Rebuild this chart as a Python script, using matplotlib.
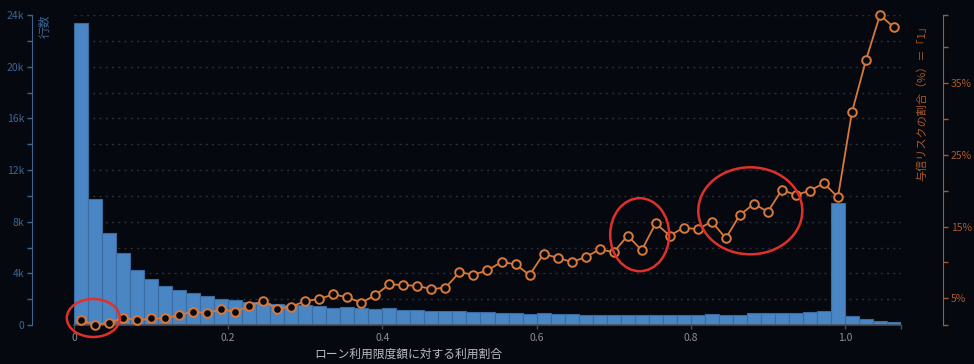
import numpy as np
import matplotlib
matplotlib.use("Agg")
import matplotlib.pyplot as plt
from matplotlib.patches import Ellipse
from matplotlib.ticker import FixedLocator, FuncFormatter

plt.rcParams['font.family'] = ['Noto Sans CJK JP', 'DejaVu Sans']

# ---- data ----
counts = [23400, 9730, 7150, 5550, 4260, 3590, 3020, 2690, 2500, 2250,
          2010, 1910, 1780, 1680, 1600, 1570, 1550, 1450, 1340, 1370,
          1340, 1210, 1290, 1160, 1160, 1110, 1060, 1060, 1010, 980,
          950, 900, 880, 950, 830, 830, 800, 770, 770, 770,
          750, 750, 770, 800, 800, 850, 800, 800, 930, 900,
          950, 950, 1030, 1080, 9470, 720, 440, 330, 230]
risk_pct = [1.97, 1.28, 1.60, 2.30, 1.93, 2.20, 2.20, 2.67, 3.13, 2.95,
            3.46, 3.13, 3.93, 4.62, 3.55, 3.83, 4.62, 4.90, 5.56, 5.14,
            4.39, 5.46, 6.95, 6.86, 6.72, 6.30, 6.48, 8.63, 8.30, 8.90,
            10.07, 9.74, 8.25, 11.18, 10.67, 10.07, 10.72, 11.84, 11.42, 13.74,
            11.70, 15.46, 13.74, 14.85, 14.63, 15.69, 13.37, 16.62, 18.16, 17.08,
            20.11, 19.41, 20.01, 21.05, 19.09, 30.95, 38.20, 44.50, 42.76]
bin_width = 1 / 55
x_ticks = [0, 0.2, 0.4, 0.6, 0.8, 1.0]
x_tick_labels = ["0", "0.2", "0.4", "0.6", "0.8", "1.0"]
left_ticks = list(range(0, 24001, 2000))
right_major = [5, 15, 25, 35]
right_minor = [10, 20, 30, 40]
xlabel = "ローン利用限度額に対する利用割合"
left_label = "行数"
right_label = "与信リスクの割合（%）＝「1」"

# ---- style ----
BG = "#05080e"
BAR = "#4a86c4"
BAR_EDGE = "#3a6ca3"
ORANGE = "#d8783a"
LEFT_C = "#3d6590"
RIGHT_C = "#a8592a"
GRID = "#2a2f38"
XC = "#8a8f96"

W, H = 974, 364
PT = 72 / 100  # points per pixel
fig = plt.figure(figsize=(W / 100, H / 100), dpi=100, facecolor=BG)
L, R, T, B = 74, 901, 15, 325
ax = fig.add_axes([L / W, 1 - B / H, (R - L) / W, (B - T) / H])
ax.set_facecolor(BG)

n = len(counts)
left_edges = np.arange(n) * bin_width
centers = left_edges + bin_width / 2

ax.bar(left_edges, counts, width=bin_width, align='edge', color=BAR,
       edgecolor=BAR_EDGE, linewidth=0.8, zorder=2)
ax.set_xlim(0, n * bin_width)
ax.set_ylim(0, 24000)

ax.yaxis.set_major_locator(FixedLocator(left_ticks))
ax.yaxis.set_major_formatter(FuncFormatter(
    lambda v, p: ("0" if v == 0 else f"{int(v/1000)}k") if int(v) % 4000 == 0 else ""))
ax.grid(axis='y', color=GRID, linestyle=(0, (1.5, 3)), linewidth=1.0, zorder=0)
ax.set_axisbelow(True)

for s in ['top', 'right']:
    ax.spines[s].set_visible(False)
ax.spines['left'].set_position(('outward', 42 * PT))
ax.spines['left'].set_color(LEFT_C)
ax.spines['bottom'].set_color("#4a4f57")
ax.spines['bottom'].set_linewidth(1.2)
ax.tick_params(axis='y', colors=LEFT_C, labelsize=7.5, length=5 * PT, width=1, pad=2)
ax.tick_params(axis='x', colors="#4a4f57", labelcolor=XC, labelsize=7.5, length=4 * PT, width=1, pad=3)
ax.set_xticks(x_ticks + [n * bin_width])
ax.set_xticklabels(x_tick_labels + [""])

ax2 = ax.twinx()
ax2.plot(centers, risk_pct, color=ORANGE, linewidth=1.3, marker='o', markersize=6.2,
         markerfacecolor=BG, markeredgecolor=ORANGE, markeredgewidth=1.4,
         clip_on=False, zorder=3)
ymin, ymax = min(risk_pct), max(risk_pct)
ax2.set_ylim(ymin, ymax)
ax2.yaxis.set_major_locator(FixedLocator(right_major + right_minor + [ymin, ymax]))
ax2.yaxis.set_major_formatter(FuncFormatter(
    lambda v, p: f"{int(round(v))}%" if any(abs(v - m) < 1e-6 for m in right_major) else ""))
for s in ['top', 'left', 'bottom']:
    ax2.spines[s].set_visible(False)
ax2.spines['right'].set_position(('outward', 42 * PT))
ax2.spines['right'].set_color(RIGHT_C)
ax2.tick_params(axis='y', colors=RIGHT_C, labelsize=7.5, length=5 * PT, width=1, pad=2)

# axis titles
fig.text(45 / W, 1 - 14 / H, left_label, color=LEFT_C, fontsize=8.5,
         rotation=90, ha='center', va='top')
fig.text(922 / W, 1 - 20 / H, right_label, color=RIGHT_C, fontsize=8,
         rotation=90, ha='center', va='top')
fig.text(408 / W, 1 - 354 / H, xlabel, color="#b8bcc2", fontsize=8.5,
         ha='center', va='center')

# red hand-drawn highlight ellipses
for cx, cy, w, h in [(93.3, 318, 53, 38), (639.7, 234.7, 59, 73), (750.3, 210.8, 104, 87)]:
    fig.patches.append(Ellipse((cx / W, 1 - cy / H), w / W, h / H,
                               transform=fig.transFigure, fill=False,
                               edgecolor="#e0302a", linewidth=1.8, zorder=10))

fig.savefig("out.png", dpi=100, facecolor=BG)
